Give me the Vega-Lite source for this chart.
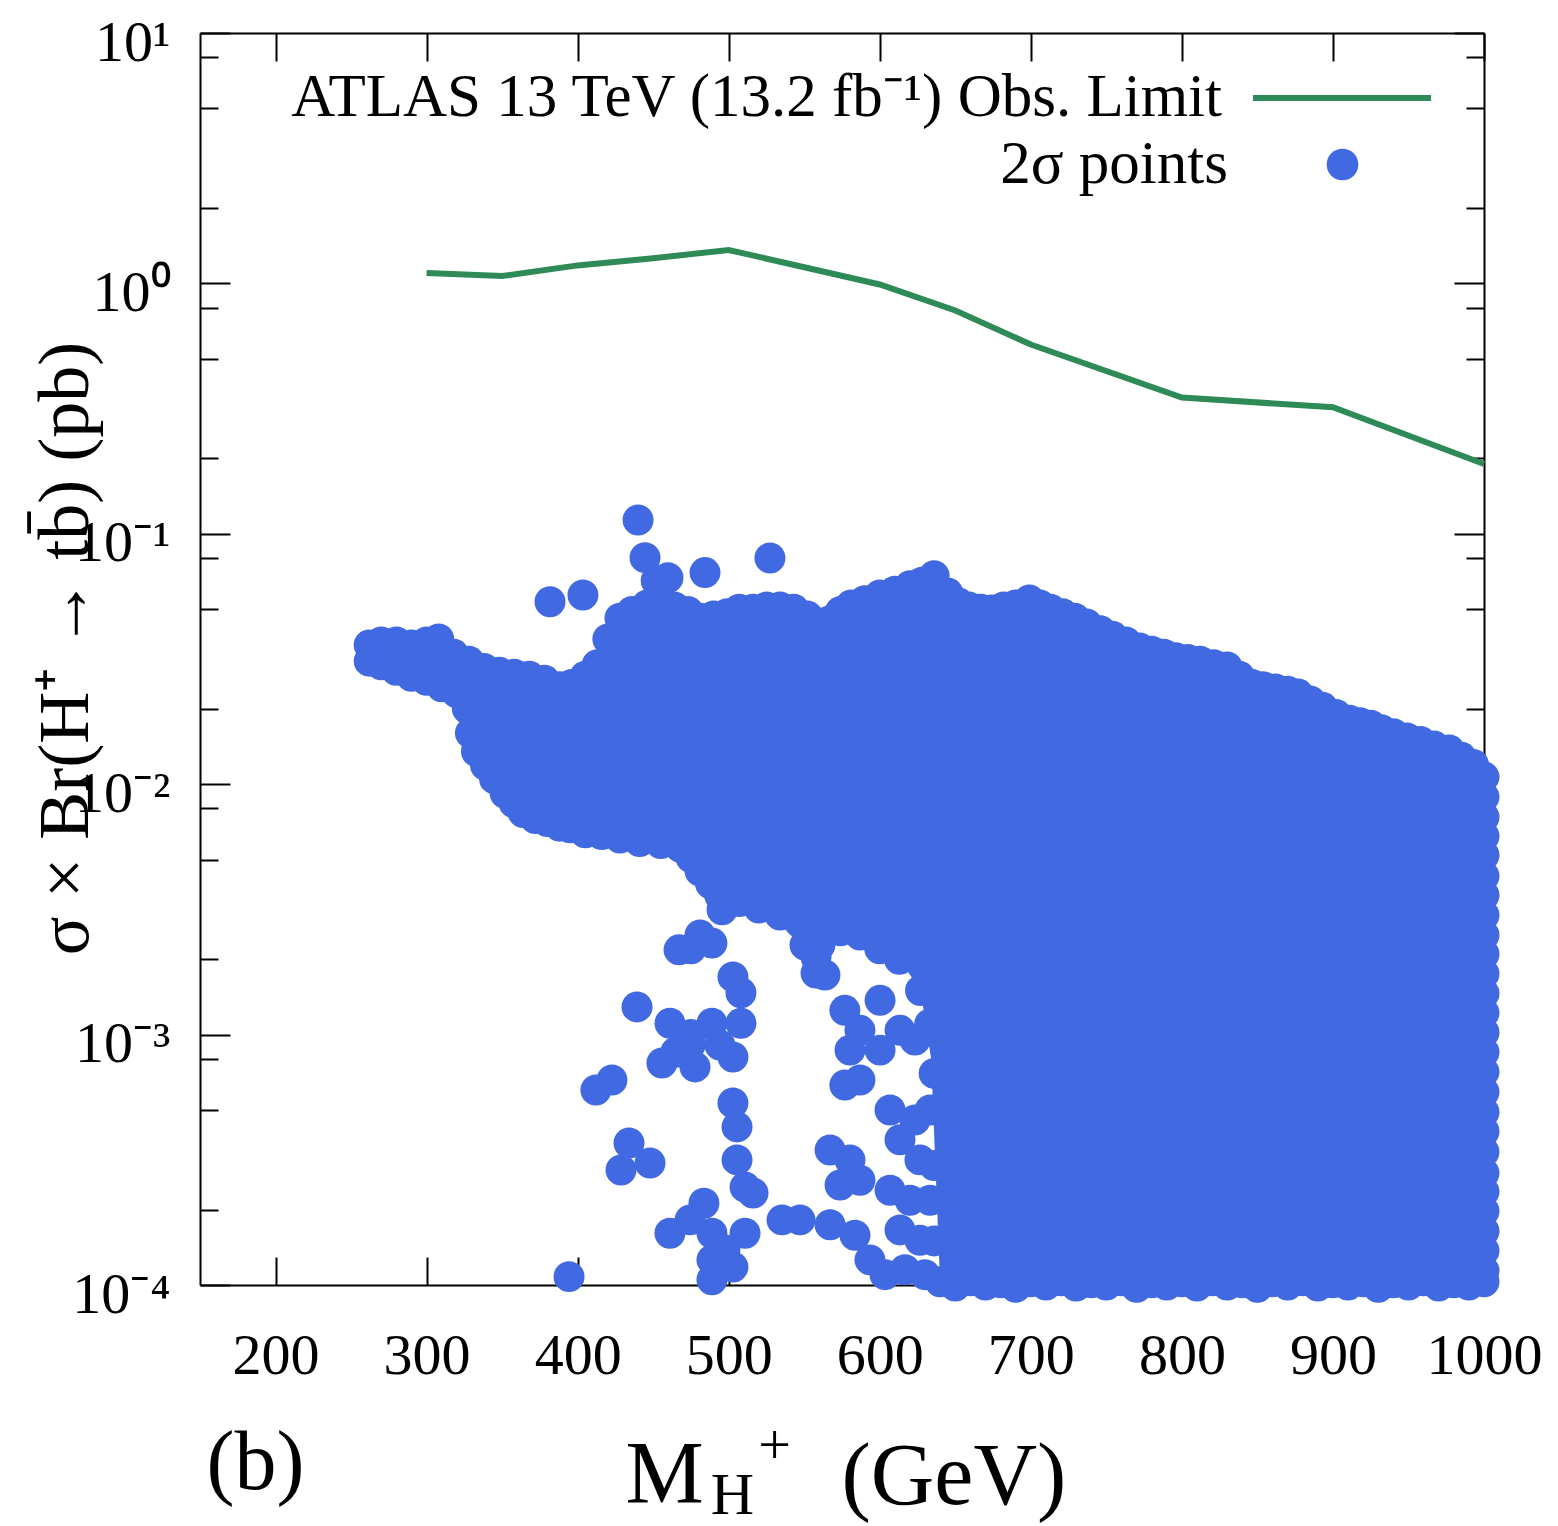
{
  "$schema": "https://vega.github.io/schema/vega-lite/v6.json",
  "width": 1284,
  "height": 1252,
  "autosize": "none",
  "padding": {"left": 200, "top": 33, "right": 74, "bottom": 241},
  "background": "white",
  "config": {"view": {"stroke": null}, "font": "Liberation Serif", "axis": {"grid": false}},
  "resolve": {"axis": {"x": "independent", "y": "independent"}},
  "layer": [
    {
      "data": {"values": [
        {"m":262,"hi":0.036,"lo":0.031},{"m":275,"hi":0.037,"lo":0.029},{"m":290,"hi":0.036,"lo":0.027},{"m":305,"hi":0.037,"lo":0.025},
        {"m":320,"hi":0.032,"lo":0.0232},{"m":326,"hi":0.031,"lo":0.0225},{"m":329,"hi":0.030,"lo":0.016},{"m":339,"hi":0.029,"lo":0.0119},
        {"m":350,"hi":0.028,"lo":0.0096},{"m":364,"hi":0.027,"lo":0.0077},{"m":375,"hi":0.026,"lo":0.0072},{"m":388,"hi":0.0245,"lo":0.0068},
        {"m":395,"hi":0.025,"lo":0.0067},{"m":405,"hi":0.027,"lo":0.0064},{"m":416,"hi":0.030,"lo":0.0063},{"m":423,"hi":0.044,"lo":0.0062},
        {"m":428,"hi":0.046,"lo":0.0061},{"m":441,"hi":0.050,"lo":0.0059},{"m":455,"hi":0.053,"lo":0.0058},{"m":468,"hi":0.050,"lo":0.0056},
        {"m":481,"hi":0.046,"lo":0.0045},{"m":494,"hi":0.047,"lo":0.0036},{"m":507,"hi":0.050,"lo":0.0034},{"m":520,"hi":0.050,"lo":0.0032},
        {"m":534,"hi":0.051,"lo":0.0030},{"m":547,"hi":0.049,"lo":0.0028},{"m":560,"hi":0.044,"lo":0.0027},{"m":574,"hi":0.049,"lo":0.0026},
        {"m":587,"hi":0.054,"lo":0.0025},{"m":600,"hi":0.057,"lo":0.0022},{"m":613,"hi":0.060,"lo":0.0020},{"m":627,"hi":0.063,"lo":0.0015},
        {"m":634,"hi":0.066,"lo":0.0008},{"m":640,"hi":0.062,"lo":0.0001},{"m":659,"hi":0.051,"lo":0.0001},{"m":674,"hi":0.0496,"lo":0.0001},
        {"m":690,"hi":0.052,"lo":0.0001},{"m":699,"hi":0.0544,"lo":0.0001},{"m":713,"hi":0.050,"lo":0.0001},{"m":737,"hi":0.0436,"lo":0.0001},
        {"m":760,"hi":0.038,"lo":0.0001},{"m":793,"hi":0.0322,"lo":0.0001},{"m":812,"hi":0.031,"lo":0.0001},{"m":830,"hi":0.0294,"lo":0.0001},
        {"m":846,"hi":0.0251,"lo":0.0001},{"m":862,"hi":0.024,"lo":0.0001},{"m":877,"hi":0.0229,"lo":0.0001},{"m":893,"hi":0.0203,"lo":0.0001},
        {"m":911,"hi":0.018,"lo":0.0001},{"m":925,"hi":0.0172,"lo":0.0001},{"m":940,"hi":0.0159,"lo":0.0001},{"m":958,"hi":0.0148,"lo":0.0001},
        {"m":977,"hi":0.0137,"lo":0.0001},{"m":993,"hi":0.0120,"lo":0.0001},{"m":1000,"hi":0.0107,"lo":0.0001}
      ]},
      "mark": {"type": "area", "color": "#4169E1", "opacity": 1, "orient": "vertical"},
      "encoding": {
        "x": {"field": "m", "type": "quantitative", "scale": {"domain": [150, 1000], "nice": false, "zero": false},
          "axis": {"orient": "bottom", "values": [200,300,400,500,600,700,800,900,1000], "format": "d",
            "domainColor": "black", "domainWidth": 2, "tickColor": "black", "tickWidth": 2, "tickSize": -28,
            "labelFont": "Liberation Serif", "labelFontSize": 58, "labelColor": "black", "labelPadding": 70,
            "labelFlush": false, "labelOverlap": false, "labelBound": false,
            "title": "M", "titleFont": "Liberation Serif", "titleFontSize": 88, "titleFontWeight": "normal",
            "titleColor": "black", "titleX": 425, "titleY": 216, "titleAlign": "left", "titleBaseline": "alphabetic"}},
        "y": {"field": "hi", "type": "quantitative", "scale": {"type": "log", "domain": [0.0001, 10], "nice": false},
          "axis": {"orient": "left", "values": [0.0001,0.0002,0.0005,0.0008,0.001,0.002,0.005,0.008,0.01,0.02,0.05,0.08,0.1,0.2,0.5,0.8,1,2,5,8,10],
            "domainColor": "black", "domainWidth": 2, "tickColor": "black", "tickWidth": 2,
            "tickSize": {"condition": {"test": "datum.value == 10 || datum.value == 1 || datum.value == 0.1 || datum.value == 0.01 || datum.value == 0.001 || datum.value == 0.0001", "value": -30}, "value": -18},
            "labelExpr": "datum.value == 10 ? '10¹' : datum.value == 1 ? '10⁰' : datum.value == 0.1 ? '10⁻¹' : datum.value == 0.01 ? '10⁻²' : datum.value == 0.001 ? '10⁻³' : datum.value == 0.0001 ? '10⁻⁴' : ''",
            "labelFont": "Liberation Serif", "labelFontSize": 58, "labelColor": "black", "labelPadding": 60, "labelOffset": 10,
            "labelFlush": false, "labelOverlap": false, "labelBound": false,
            "title": "σ × Br(H⁺ → tb̄) (pb)", "titleFont": "Liberation Serif", "titleFontSize": 72, "titleFontWeight": "normal", "titleColor": "black",
            "titleX": -135, "titleY": 615, "titleAngle": 270, "titleAlign": "center", "titleBaseline": "middle"}},
        "y2": {"field": "lo"}
      }
    },
    {
      "data": {"values": [
        {"m":262,"y":0.036},{"m":270,"y":0.037},{"m":280,"y":0.037},{"m":290,"y":0.036},{"m":300,"y":0.037},{"m":308,"y":0.038},{"m":318,"y":0.033},{"m":328,"y":0.031},
        {"m":338,"y":0.029},{"m":348,"y":0.028},{"m":358,"y":0.0275},{"m":368,"y":0.027},{"m":378,"y":0.026},{"m":388,"y":0.0245},{"m":396,"y":0.025},{"m":405,"y":0.027},
        {"m":413,"y":0.030},{"m":420,"y":0.038},{"m":428,"y":0.046},{"m":436,"y":0.049},{"m":446,"y":0.052},{"m":455,"y":0.053},{"m":464,"y":0.051},{"m":473,"y":0.049},
        {"m":481,"y":0.046},{"m":490,"y":0.047},{"m":499,"y":0.048},{"m":507,"y":0.050},{"m":516,"y":0.050},{"m":525,"y":0.051},{"m":534,"y":0.051},{"m":543,"y":0.050},
        {"m":552,"y":0.047},{"m":560,"y":0.044},{"m":567,"y":0.045},{"m":574,"y":0.049},{"m":581,"y":0.052},{"m":590,"y":0.054},{"m":600,"y":0.057},{"m":610,"y":0.059},
        {"m":620,"y":0.062},{"m":628,"y":0.064},{"m":636,"y":0.068},{"m":645,"y":0.058},{"m":652,"y":0.053},{"m":659,"y":0.051},{"m":667,"y":0.050},{"m":674,"y":0.0496},
        {"m":682,"y":0.051},{"m":690,"y":0.052},{"m":699,"y":0.0544},{"m":706,"y":0.052},{"m":713,"y":0.050},{"m":721,"y":0.048},{"m":729,"y":0.046},{"m":737,"y":0.0436},
        {"m":746,"y":0.041},{"m":754,"y":0.039},{"m":763,"y":0.037},{"m":772,"y":0.035},{"m":780,"y":0.034},{"m":788,"y":0.033},{"m":796,"y":0.032},{"m":804,"y":0.0315},
        {"m":812,"y":0.031},{"m":821,"y":0.030},{"m":830,"y":0.0294},{"m":838,"y":0.027},{"m":846,"y":0.0251},{"m":854,"y":0.0245},{"m":862,"y":0.024},{"m":870,"y":0.0235},
        {"m":877,"y":0.0229},{"m":885,"y":0.0215},{"m":893,"y":0.0203},{"m":902,"y":0.019},{"m":911,"y":0.018},{"m":918,"y":0.0176},{"m":925,"y":0.0172},{"m":932,"y":0.0165},
        {"m":940,"y":0.0159},{"m":949,"y":0.0153},{"m":958,"y":0.0148},{"m":967,"y":0.0142},{"m":977,"y":0.0137},{"m":985,"y":0.0128},{"m":993,"y":0.012},{"m":1000,"y":0.0107},
        {"m":262,"y":0.031},{"m":270,"y":0.030},{"m":280,"y":0.0285},{"m":290,"y":0.027},{"m":300,"y":0.026},{"m":310,"y":0.0245},{"m":320,"y":0.0232},{"m":327,"y":0.02},
        {"m":329,"y":0.016},{"m":333,"y":0.0135},{"m":339,"y":0.0119},{"m":345,"y":0.0105},{"m":352,"y":0.0092},{"m":358,"y":0.0084},{"m":364,"y":0.0077},{"m":372,"y":0.0073},
        {"m":380,"y":0.0071},{"m":388,"y":0.0068},{"m":395,"y":0.0067},{"m":405,"y":0.0064},{"m":416,"y":0.0063},{"m":428,"y":0.0061},{"m":441,"y":0.0059},{"m":455,"y":0.0058},
        {"m":468,"y":0.0056},{"m":475,"y":0.0051},{"m":481,"y":0.0045},{"m":488,"y":0.004},{"m":494,"y":0.0036},{"m":507,"y":0.0034},{"m":520,"y":0.0032},{"m":534,"y":0.003},
        {"m":547,"y":0.0028},{"m":560,"y":0.0027},{"m":574,"y":0.0026},{"m":587,"y":0.0025},{"m":600,"y":0.0022},{"m":613,"y":0.002},{"m":627,"y":0.0015},
        {"m":640,"y":0.000103},{"m":650,"y":0.000099},{"m":660,"y":0.000104},{"m":670,"y":0.0001},{"m":680,"y":0.000102},{"m":690,"y":0.000098},{"m":700,"y":0.000103},
        {"m":710,"y":0.0001},{"m":720,"y":0.000104},{"m":730,"y":0.000099},{"m":740,"y":0.000102},{"m":750,"y":0.0001},{"m":760,"y":0.000104},{"m":770,"y":0.000098},
        {"m":780,"y":0.000102},{"m":790,"y":0.0001},{"m":800,"y":0.000103},{"m":810,"y":0.000099},{"m":820,"y":0.000104},{"m":830,"y":0.0001},{"m":840,"y":0.000102},
        {"m":850,"y":0.000098},{"m":860,"y":0.000103},{"m":870,"y":0.0001},{"m":880,"y":0.000104},{"m":890,"y":0.000099},{"m":900,"y":0.000102},{"m":910,"y":0.0001},
        {"m":920,"y":0.000103},{"m":930,"y":0.000098},{"m":940,"y":0.000102},{"m":950,"y":0.0001},{"m":960,"y":0.000104},{"m":970,"y":0.000099},{"m":980,"y":0.000102},
        {"m":990,"y":0.0001},{"m":1000,"y":0.000103},
        {"m":1000,"y":0.0089},{"m":1000,"y":0.0074},{"m":1000,"y":0.0062},{"m":1000,"y":0.0052},{"m":1000,"y":0.0043},{"m":1000,"y":0.0036},{"m":1000,"y":0.003},
        {"m":1000,"y":0.0025},{"m":1000,"y":0.0021},{"m":1000,"y":0.00175},{"m":1000,"y":0.00146},{"m":1000,"y":0.00122},{"m":1000,"y":0.00102},{"m":1000,"y":0.00085},
        {"m":1000,"y":0.00071},{"m":1000,"y":0.00059},{"m":1000,"y":0.00049},{"m":1000,"y":0.00041},{"m":1000,"y":0.00034},{"m":1000,"y":0.00028},{"m":1000,"y":0.000236},
        {"m":1000,"y":0.000197},{"m":1000,"y":0.000164},{"m":1000,"y":0.000137},{"m":1000,"y":0.000114},
        {"m":440,"y":0.1135},{"m":444.6,"y":0.0803},{"m":452,"y":0.065},{"m":459.8,"y":0.0668},{"m":484.3,"y":0.07},{"m":527.3,"y":0.08},{"m":381.7,"y":0.0535},{"m":403.5,"y":0.057},
        {"m":467.1,"y":0.00218},{"m":488.9,"y":0.00232},{"m":502.8,"y":0.0017},{"m":508.1,"y":0.00147},{"m":481,"y":0.0025},{"m":495.6,"y":0.00315},{"m":475,"y":0.0022},
        {"m":557.8,"y":0.00204},{"m":557.8,"y":0.00176},{"m":550.5,"y":0.00228},{"m":439.3,"y":0.00129},
        {"m":461.1,"y":0.00111},{"m":488.9,"y":0.00111},{"m":508.1,"y":0.00111},{"m":455.8,"y":0.00077},{"m":477.7,"y":0.000743},{"m":502.8,"y":0.000814},{"m":474.4,"y":0.000908},
        {"m":494.2,"y":0.000908},{"m":502.8,"y":0.000533},{"m":505.5,"y":0.000428},{"m":475,"y":0.001},{"m":465,"y":0.00085},
        {"m":412.1,"y":0.000601},{"m":422.7,"y":0.000659},{"m":434,"y":0.000369},{"m":428.7,"y":0.000288},{"m":447.9,"y":0.000307},
        {"m":505.5,"y":0.000316},{"m":510.8,"y":0.000246},{"m":516.1,"y":0.000233},{"m":535.3,"y":0.000182},
        {"m":483.6,"y":0.000212},{"m":461.1,"y":0.000161},{"m":488.9,"y":0.000161},{"m":488.9,"y":0.000126},{"m":488.9,"y":0.000105},{"m":510.8,"y":0.000161},{"m":502.8,"y":0.000118},
        {"m":474.4,"y":0.000182},{"m":497.5,"y":0.000138},{"m":394.3,"y":0.000108},
        {"m":560.4,"y":0.00228},{"m":563.7,"y":0.00173},{"m":576.9,"y":0.00125},{"m":586.9,"y":0.00104},{"m":580.3,"y":0.000867},{"m":586.9,"y":0.000659},{"m":576.9,"y":0.000629},
        {"m":567.1,"y":0.000346},{"m":580.3,"y":0.000316},{"m":573.7,"y":0.000251},{"m":586.9,"y":0.000262},{"m":547.2,"y":0.000182},{"m":567.1,"y":0.000174},{"m":583.6,"y":0.000158},
        {"m":593.5,"y":0.000126},{"m":603.5,"y":0.00011},{"m":600.2,"y":0.00137},{"m":600.2,"y":0.000867},{"m":613.4,"y":0.00104},{"m":623.3,"y":0.000951},{"m":606.8,"y":0.0005},
        {"m":623.3,"y":0.000456},{"m":633.3,"y":0.0005},{"m":613.4,"y":0.00038},{"m":626.6,"y":0.000316},{"m":606.8,"y":0.000239},{"m":620,"y":0.000218},{"m":633.3,"y":0.000218},
        {"m":613.4,"y":0.000166},{"m":626.6,"y":0.000151},{"m":616.7,"y":0.000115},{"m":629.9,"y":0.00011},{"m":633,"y":0.0011},{"m":636,"y":0.0007},{"m":636,"y":0.0003},{"m":636,"y":0.00015}
      ]},
      "mark": {"type": "circle", "size": 960, "opacity": 1},
      "encoding": {
        "x": {"field": "m", "type": "quantitative",
          "axis": {"orient": "top", "values": [200,300,400,500,600,700,800,900,1000], "labels": false,
            "domainColor": "black", "domainWidth": 2, "tickColor": "black", "tickWidth": 2, "tickSize": -28,
            "title": "+", "titleFont": "Liberation Serif", "titleFontSize": 58, "titleFontWeight": "normal", "titleColor": "black",
            "titleX": 574, "titleY": 1413, "titleAlign": "center", "titleBaseline": "middle", "titleAngle": 0}},
        "y": {"field": "y", "type": "quantitative",
          "axis": {"orient": "right", "values": [0.0001,0.0002,0.0005,0.0008,0.001,0.002,0.005,0.008,0.01,0.02,0.05,0.08,0.1,0.2,0.5,0.8,1,2,5,8,10], "labels": false,
            "domainColor": "black", "domainWidth": 2, "tickColor": "black", "tickWidth": 2,
            "tickSize": {"condition": {"test": "datum.value == 10 || datum.value == 1 || datum.value == 0.1 || datum.value == 0.01 || datum.value == 0.001 || datum.value == 0.0001", "value": -30}, "value": -18},
            "title": "(b)", "titleFont": "Liberation Serif", "titleFontSize": 84, "titleFontWeight": "normal", "titleColor": "black",
            "titleX": -1229, "titleY": 1455, "titleAlign": "center", "titleBaseline": "alphabetic", "titleAngle": 0}},
        "fill": {"datum": "2σ points", "scale": {"domain": ["2σ points"], "range": ["#4169E1"]},
          "legend": {"orient": "none", "legendX": 1112, "legendY": 101, "title": null, "symbolType": "circle", "symbolSize": 1000,
            "symbolStrokeWidth": 0, "labelAlign": "right", "labelOffset": -145, "labelFont": "Liberation Serif", "labelFontSize": 61,
            "labelColor": "black", "labelLimit": 3000, "padding": 0}}
      }
    },
    {
      "data": {"values": [
        {"m":300,"limit":1.10},{"m":350,"limit":1.07},{"m":400,"limit":1.18},{"m":450,"limit":1.26},{"m":500,"limit":1.36},
        {"m":550,"limit":1.16},{"m":600,"limit":0.99},{"m":650,"limit":0.78},{"m":700,"limit":0.57},{"m":800,"limit":0.35},
        {"m":900,"limit":0.32},{"m":1000,"limit":0.19}
      ]},
      "mark": {"type": "line", "strokeWidth": 6},
      "encoding": {
        "x": {"field": "m", "type": "quantitative",
          "axis": {"orient": "bottom", "domain": false, "ticks": false, "labels": false,
            "title": "H", "titleFont": "Liberation Serif", "titleFontSize": 60, "titleFontWeight": "normal", "titleColor": "black",
            "titleX": 532, "titleY": 228, "titleAlign": "center", "titleBaseline": "alphabetic"}},
        "y": {"field": "limit", "type": "quantitative",
          "axis": {"orient": "left", "domain": false, "ticks": false, "labels": false,
            "title": "(GeV)", "titleFont": "Liberation Serif", "titleFontSize": 88, "titleFontWeight": "normal", "titleColor": "black",
            "titleX": 641, "titleY": 1470, "titleAngle": 0, "titleAlign": "left", "titleBaseline": "alphabetic"}},
        "stroke": {"datum": "ATLAS 13 TeV (13.2 fb⁻¹) Obs. Limit", "scale": {"domain": ["ATLAS 13 TeV (13.2 fb⁻¹) Obs. Limit"], "range": ["#2E8B57"]},
          "legend": {"orient": "none", "legendX": 1050, "legendY": -27, "title": null, "symbolType": "stroke", "symbolSize": 31684,
            "symbolStrokeWidth": 6, "labelAlign": "right", "labelOffset": -212, "labelFont": "Liberation Serif", "labelFontSize": 61,
            "labelColor": "black", "labelLimit": 3000, "padding": 0}}
      }
    }
  ]
}
